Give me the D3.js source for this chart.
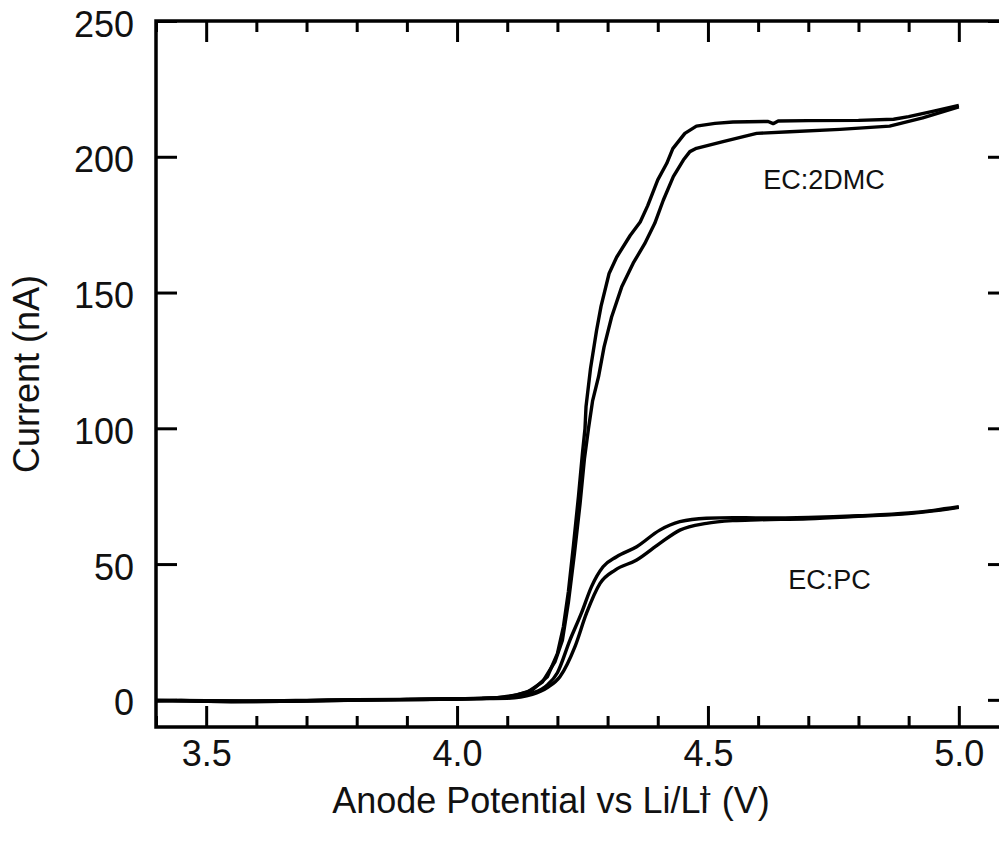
<!DOCTYPE html>
<html>
<head>
<meta charset="utf-8">
<script src="https://cdn.jsdelivr.net/npm/d3@7"></script>
<style>
  html, body { margin: 0; padding: 0; background: #fff; }
  svg text { font-family: "Liberation Sans", Arial, sans-serif; fill: #111; }
</style>
</head>
<body>
<div id="vis"></div>
<script>
// [potential (V), current (nA)]
var dmcUpper = [
  [3.40, -0.4], [3.45, -0.2], [3.50, -0.5], [3.60, -0.6], [3.70, -0.4], [3.80, -0.1],
  [3.90, 0.1], [4.00, 0.3], [4.08, 0.8], [4.12, 1.8], [4.15, 3.6], [4.18, 8.5],
  [4.20, 17], [4.212, 27], [4.222, 40], [4.232, 57], [4.242, 75], [4.250, 91],
  [4.255, 100], [4.257, 108], [4.266, 122], [4.278, 136], [4.287, 145], [4.303, 157],
  [4.318, 163], [4.345, 171], [4.365, 176], [4.380, 182], [4.400, 191.5], [4.418, 197.6],
  [4.430, 203], [4.454, 208.6], [4.477, 211.3], [4.514, 212.3], [4.55, 212.8], [4.62, 213.0],
  [4.63, 212.2], [4.64, 213.2], [4.70, 213.3], [4.80, 213.4], [4.87, 213.8], [4.90, 214.8],
  [4.95, 216.8], [5.00, 218.9]
];
var dmcLower = [
  [3.40, -0.2], [3.48, -0.4], [3.55, -0.7], [3.65, -0.5], [3.75, -0.3], [3.85, 0.0],
  [3.95, 0.2], [4.05, 0.5], [4.10, 1.0], [4.14, 2.8], [4.17, 6.5], [4.195, 14],
  [4.21, 22], [4.222, 36], [4.234, 54], [4.245, 72], [4.254, 89], [4.262, 100],
  [4.270, 110], [4.282, 119], [4.293, 130], [4.308, 141], [4.328, 152], [4.351, 160.8],
  [4.374, 168], [4.394, 175.5], [4.411, 184], [4.431, 192.7], [4.451, 198.8], [4.464, 201.9],
  [4.477, 203.1], [4.530, 205.6], [4.597, 208.6], [4.663, 209.2], [4.763, 210.1], [4.862, 211.3],
  [4.928, 214.3], [5.00, 218.4]
];
var pcUpper = [
  [3.40, -0.3], [3.50, -0.4], [3.60, -0.5], [3.70, -0.3], [3.80, 0.0], [3.90, 0.1],
  [4.00, 0.3], [4.10, 0.8], [4.15, 2.5], [4.18, 5.5], [4.20, 10], [4.225, 22],
  [4.248, 32], [4.268, 41.7], [4.291, 49], [4.318, 52.7], [4.358, 56.4], [4.404, 62.5],
  [4.444, 65.6], [4.497, 66.9], [4.55, 67.1], [4.60, 67.0], [4.70, 67.2], [4.80, 67.8],
  [4.90, 68.8], [4.95, 69.8], [5.00, 71.1]
];
var pcLower = [
  [3.40, -0.2], [3.50, -0.3], [3.60, -0.4], [3.70, -0.2], [3.80, 0.1], [3.90, 0.2],
  [4.00, 0.4], [4.10, 0.6], [4.15, 2.0], [4.18, 4.5], [4.205, 8.5], [4.235, 19.6],
  [4.258, 31.9], [4.285, 42.9], [4.315, 47.8], [4.358, 51.5], [4.404, 57.6], [4.444, 62.5],
  [4.497, 65.0], [4.55, 66.0], [4.60, 66.3], [4.70, 66.7], [4.80, 67.6], [4.90, 68.6],
  [4.95, 69.6], [5.00, 70.9]
];

var xMajor = [3.5, 4.0, 4.5, 5.0];
var xMinor = [3.4, 3.6, 3.7, 3.8, 3.9, 4.1, 4.2, 4.3, 4.4, 4.6, 4.7, 4.8, 4.9, 5.1];
var yMajor = [0, 50, 100, 150, 200, 250];

var labels = [
  { text: "EC:2DMC", v: 4.61, i: 188 },
  { text: "EC:PC", v: 4.66, i: 41 }
];

var W = 999, H = 843;
var margin = { top: 21, right: -10, bottom: 116, left: 156 };
var width = W - margin.left - margin.right,
    height = H - margin.top - margin.bottom;

var svg = d3.select("#vis").append("svg")
    .attr("width", W)
    .attr("height", H)
    .style("display", "block");

svg.append("rect").attr("width", W).attr("height", H).attr("fill", "#fff");

var g = svg.append("g")
    .attr("transform", "translate(" + margin.left + "," + margin.top + ")");

var x = d3.scaleLinear().domain([3.4, 5.1]).range([0, width]);
var y = d3.scaleLinear().domain([-10, 250]).range([height, 0]);

// minor ticks (top and bottom)
g.append("g")
    .attr("transform", "translate(0," + height + ")")
    .call(d3.axisBottom(x).tickValues(xMinor).tickSize(-11).tickSizeOuter(0).tickFormat(""));
g.append("g")
    .call(d3.axisTop(x).tickValues(xMinor).tickSize(-11).tickSizeOuter(0).tickFormat(""));

// major ticks
var xAxis = g.append("g")
    .attr("transform", "translate(0," + height + ")")
    .call(d3.axisBottom(x).tickValues(xMajor).tickSize(-21).tickSizeOuter(0).tickPadding(13)
        .tickFormat(d3.format(".1f")));
g.append("g")
    .call(d3.axisTop(x).tickValues(xMajor).tickSize(-21).tickSizeOuter(0).tickFormat(""));

var yAxis = g.append("g")
    .call(d3.axisLeft(y).tickValues(yMajor).tickSize(-21).tickSizeOuter(0).tickPadding(22));
g.append("g")
    .attr("transform", "translate(" + width + ",0)")
    .call(d3.axisRight(y).tickValues(yMajor).tickSize(-21).tickSizeOuter(0).tickFormat(""));

g.selectAll(".tick line").attr("stroke", "#000").attr("stroke-width", 3);
g.selectAll("path.domain").attr("stroke", "none");
g.selectAll(".tick text")
    .style("font-family", "Liberation Sans, Arial, sans-serif")
    .attr("font-size", "36px")
    .attr("fill", "#111");
yAxis.selectAll(".tick text").attr("dy", "0.42em");

// frame
g.append("rect")
    .attr("x", 0).attr("y", 0)
    .attr("width", width).attr("height", height)
    .attr("fill", "none")
    .attr("stroke", "#000")
    .attr("stroke-width", 3.5);

// curves
var line = d3.line()
    .x(function (d) { return x(d[0]); })
    .y(function (d) { return y(d[1]); });
var smooth = d3.line()
    .curve(d3.curveMonotoneX)
    .x(function (d) { return x(d[0]); })
    .y(function (d) { return y(d[1]); });

[dmcUpper, dmcLower].forEach(function (s) {
  g.append("path").datum(s)
      .attr("d", line)
      .attr("fill", "none")
      .attr("stroke", "#000")
      .attr("stroke-width", 3.4)
      .attr("stroke-linejoin", "round");
});
[pcUpper, pcLower].forEach(function (s) {
  g.append("path").datum(s)
      .attr("d", smooth)
      .attr("fill", "none")
      .attr("stroke", "#000")
      .attr("stroke-width", 3.4)
      .attr("stroke-linejoin", "round");
});

// curve labels
g.selectAll("text.lbl")
    .data(labels)
    .enter()
    .append("text")
    .attr("class", "lbl")
    .attr("x", function (d) { return x(d.v); })
    .attr("y", function (d) { return y(d.i); })
    .attr("font-size", "27px")
    .text(function (d) { return d.text; });

// axis titles
var xt = svg.append("text")
    .attr("x", 551)
    .attr("y", 813)
    .attr("text-anchor", "middle")
    .attr("font-size", "36px");
xt.append("tspan").text("Anode Potential vs Li/Li");
xt.append("tspan").attr("font-size", "24px").attr("dx", -10).attr("dy", -7).text("\u2020");
xt.append("tspan").attr("dy", 7).text(" (V)");

svg.append("text")
    .attr("transform", "translate(39," + (margin.top + height / 2) + ") rotate(-90)")
    .attr("text-anchor", "middle")
    .attr("font-size", "36px")
    .text("Current (nA)");
</script>
</body>
</html>
